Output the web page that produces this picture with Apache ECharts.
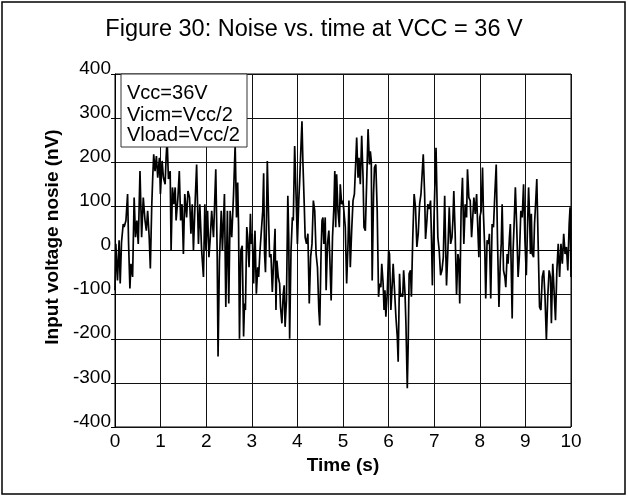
<!DOCTYPE html>
<html><head><meta charset="utf-8">
<script src="https://cdn.jsdelivr.net/npm/echarts@6/dist/echarts.min.js"></script>
<style>html,body{margin:0;padding:0;background:#fff}#c{width:628px;height:497px}</style>
</head><body><div id="c"></div>
<script>
// Sample times (s)
const times = [
 0, 0.018, 0.055, 0.09, 0.114, 0.143, 0.18, 0.2, 0.24, 0.276, 0.298, 0.327, 0.35, 0.386, 0.42, 0.45, 0.48, 0.51, 0.548, 0.584, 0.62, 0.658, 0.687, 0.716, 0.75, 0.775, 0.805, 0.827, 0.849, 0.878, 0.908, 0.937, 0.974, 0.996, 1.033, 1.062, 1.099, 1.121, 1.143, 1.172, 1.21, 1.23, 1.26, 1.29, 1.32, 1.34, 1.38, 1.41, 1.44, 1.47, 1.5, 1.53, 1.57, 1.6,
 1.635, 1.665, 1.694, 1.72, 1.75, 1.79, 1.83, 1.86, 1.9, 1.94, 1.97, 1.995, 2.03, 2.06, 2.09, 2.12, 2.16, 2.21, 2.24, 2.26, 2.29, 2.33, 2.356, 2.4, 2.43, 2.465, 2.495, 2.525, 2.56, 2.6, 2.635, 2.665, 2.69, 2.71, 2.73, 2.76, 2.79, 2.82, 2.84, 2.86, 2.89, 2.91, 2.94, 2.97, 2.99, 3.01, 3.04, 3.07, 3.1, 3.13, 3.15, 3.18, 3.21, 3.24,
 3.26, 3.28, 3.3, 3.32, 3.34, 3.37, 3.39, 3.42, 3.45, 3.48, 3.51, 3.53, 3.55, 3.58, 3.61, 3.63, 3.66, 3.69, 3.71, 3.73, 3.76, 3.79, 3.81, 3.83, 3.86, 3.89, 3.91, 3.94, 3.97, 4.0, 4.03, 4.05, 4.08, 4.1, 4.12, 4.15, 4.17, 4.2, 4.23, 4.26, 4.29, 4.32, 4.35, 4.38, 4.41, 4.44, 4.47, 4.49, 4.52, 4.54, 4.56, 4.58, 4.61, 4.63, 4.66, 4.69, 4.71, 4.74, 4.77, 4.8, 4.82, 4.84, 4.86, 4.89, 4.92, 4.94, 4.97, 5.0,
 5.05, 5.08, 5.11, 5.13, 5.16, 5.19, 5.22, 5.25, 5.28, 5.3, 5.33, 5.35, 5.38, 5.41, 5.44, 5.46, 5.49, 5.52, 5.55, 5.58, 5.6, 5.62, 5.64, 5.67, 5.69, 5.72, 5.75, 5.78, 5.8, 5.83, 5.85, 5.88, 5.9, 5.92, 5.94, 5.97, 6.0, 6.02, 6.05, 6.08, 6.1, 6.13, 6.16, 6.19, 6.21, 6.24, 6.26, 6.28, 6.31, 6.33, 6.36, 6.38, 6.41, 6.43, 6.45, 6.48, 6.5, 6.53, 6.56, 6.59, 6.62, 6.65, 6.68, 6.71,
 6.76, 6.79, 6.81, 6.84, 6.86, 6.89, 6.92, 6.94, 6.96, 6.99, 7.02, 7.04, 7.06, 7.08, 7.11, 7.14, 7.17, 7.2, 7.23, 7.25, 7.27, 7.3, 7.33, 7.36, 7.39, 7.41, 7.43, 7.46, 7.49, 7.52, 7.54, 7.56, 7.59, 7.62, 7.65, 7.68, 7.71, 7.73, 7.76, 7.79, 7.82, 7.85, 7.87, 7.9, 7.93, 7.95, 7.98, 8.0, 8.03, 8.06, 8.08, 8.11, 8.13, 8.16, 8.19, 8.21, 8.24, 8.27, 8.3, 8.33, 8.36, 8.39, 8.42,
 8.45, 8.47, 8.49, 8.52, 8.55, 8.57, 8.6, 8.62, 8.65, 8.67, 8.69, 8.71, 8.73, 8.75, 8.78, 8.81, 8.84, 8.87, 8.9, 8.93, 8.96, 8.99, 9.02, 9.04, 9.07, 9.09, 9.11, 9.13, 9.15, 9.18, 9.2, 9.22, 9.25, 9.28, 9.31, 9.34, 9.37, 9.4, 9.43, 9.46, 9.49, 9.52, 9.55, 9.57, 9.6, 9.63, 9.66, 9.69, 9.72, 9.75, 9.78, 9.81, 9.84, 9.87, 9.9, 9.93, 9.96, 9.98, 10.0
];
// Input voltage noise (nV) at those times
const noise = [
 -90, 15, -68, 23, -75, 19, 60, 53, 68, 128, 15, -86, -30, -60, 120, 30, 68, 15, 180, 30, 120, 68, 45, 90, 30, -41, 98, 165, 218, 180, 214, 165, 210, 128, 203, 165, 150, 210, 252, 162, 180, 0, 143, 105, 143, 68, 120, 180, 68, 105, -8, 128, 75, 135,
 120, 38, 105, 0, 90, 195, 15, 105, 0, -60, 105, 0, 90, -15, 30, 90, 30, 184, 0, -240, -23, 90, 0, 128, -128, 90, -120, 90, 30, 128, 240, 75, 154, 53, -200, 0, 11, -195, -120, -135, 53, 30, -38, 83, 15, 38, -75, 45, -98, -38, -60, 0, 45, 90,
 175, -8, -49, 53, 203, 68, -15, -8, -94, -23, 49, -135, -23, -60, -75, -128, -165, -98, -79, -173, -113, 124, 30, -200, 0, 75, 68, 237, 128, 15, 113, 158, 240, 293, 203, 105, 30, 15, 38, -120, -15, 15, 113, 90, -8, -38, -135, -170, 0, 68, 75, 15, 75, -90, 15, 45, -15, -113, 30, 98, 180, 53, 173, 90, 53, 150, 105, 113,
 53, -75, 15, 113, -38, 45, 113, 128, 203, 256, 165, 210, 150, 260, 165, 53, 45, 158, 275, 195, 225, 203, -68, 128, 188, 195, 90, -105, -75, -83, -30, -75, -135, -90, -150, -98, 0, -8, -135, -75, -30, -30, -150, -195, -252, -53, -105, -98, -105, -45, -98, -165, -312, -210, -53, -45, -105, 30, 128, 98, 8, 38, 105, 128,
 218, 128, 26, 68, 105, 94, 113, 30, -79, 53, 165, 233, 128, 30, 0, -56, -45, -15, 124, 15, -79, 0, 98, 15, 30, 68, 135, 38, -101, -8, -23, -120, 90, 165, 15, 105, 75, 184, 120, 113, 30, 83, 120, 83, 128, 68, -15, 75, 90, 188, 83, 0, -109, 23, 15, 38, -109, 60, 53, 128, 195, 15, -128,
 -23, 15, 105, -45, -60, -83, -8, -30, 30, 60, -45, -154, 0, 53, 143, 53, -60, -8, 90, 75, 150, 23, -56, 30, 143, 83, -8, 83, -8, -15, 60, 98, 162, 15, -128, -135, -60, -45, -105, -203, -105, -45, -60, -165, -30, -30, -158, -45, 15, -60, 15, -30, 38, -8, 8, -45, 60, 98, -60
];
const legendLines = ['Vcc=36V', 'Vicm=Vcc/2', 'Vload=Vcc/2'];
const titleText = 'Figure 30: Noise vs. time at VCC = 36 V';
const xName = 'Time (s)';
const yName = 'Input voltage nosie (nV)';

const ARIAL = '"Liberation Sans", Arial, sans-serif';
const chart = echarts.init(document.getElementById('c'), null, {renderer: 'canvas'});
const data = times.map((t, i) => [t, noise[i]]);
chart.setOption({
  animation: false,
  title: {
    text: titleText, left: 'center', top: 13,
    textStyle: {fontFamily: ARIAL, fontWeight: 'normal', fontSize: 23.5, color: '#000'}
  },
  grid: {left: 115, right: 57, top: 74, bottom: 70, show: true, borderColor: '#000', borderWidth: 1},
  xAxis: {
    type: 'value', min: 0, max: 10, interval: 1,
    axisLine: {show: true, lineStyle: {color: '#000', width: 1}},
    axisTick: {show: false},
    axisLabel: {color: '#000', fontFamily: ARIAL, fontSize: 19, margin: 5},
    splitLine: {show: true, lineStyle: {color: '#111', width: 1}},
    name: xName, nameLocation: 'middle', nameGap: 26,
    nameTextStyle: {color: '#000', fontFamily: ARIAL, fontWeight: 'bold', fontSize: 19}
  },
  yAxis: {
    type: 'value', min: -400, max: 400, interval: 100,
    axisLine: {show: true, lineStyle: {color: '#000', width: 1}},
    axisTick: {show: true, length: 4, lineStyle: {color: '#000'}},
    axisLabel: {color: '#000', fontFamily: ARIAL, fontSize: 19, margin: 4, verticalAlign: 'bottom', padding: [0, 0, -4, 0]},
    splitLine: {show: true, lineStyle: {color: '#111', width: 1}}
  },
  series: [{
    type: 'line', data: data, showSymbol: false, silent: true,
    lineStyle: {color: '#000', width: 1.7}
  }],
  graphic: [
    {type: 'rect', shape: {x: 2, y: 2, width: 623, height: 492}, style: {fill: 'none', stroke: '#000', lineWidth: 1.5}, z: 100},
    {type: 'text', x: 53, y: 237, rotation: Math.PI / 2,
      style: {text: yName, font: 'bold 19px ' + ARIAL, fill: '#000', textAlign: 'center', textVerticalAlign: 'middle'}, z: 100},
    {type: 'rect', shape: {x: 121, y: 74, width: 126, height: 73}, style: {fill: '#fff', stroke: '#333', lineWidth: 1}, z: 100},
    {type: 'text', x: 127, y: 93.5, style: {text: legendLines[0], font: '20px ' + ARIAL, fill: '#000', textVerticalAlign: 'middle'}, z: 101},
    {type: 'text', x: 127, y: 115, style: {text: legendLines[1], font: '20px ' + ARIAL, fill: '#000', textVerticalAlign: 'middle'}, z: 101},
    {type: 'text', x: 127, y: 135.5, style: {text: legendLines[2], font: '20px ' + ARIAL, fill: '#000', textVerticalAlign: 'middle'}, z: 101}
  ]
});
</script>
</body></html>
